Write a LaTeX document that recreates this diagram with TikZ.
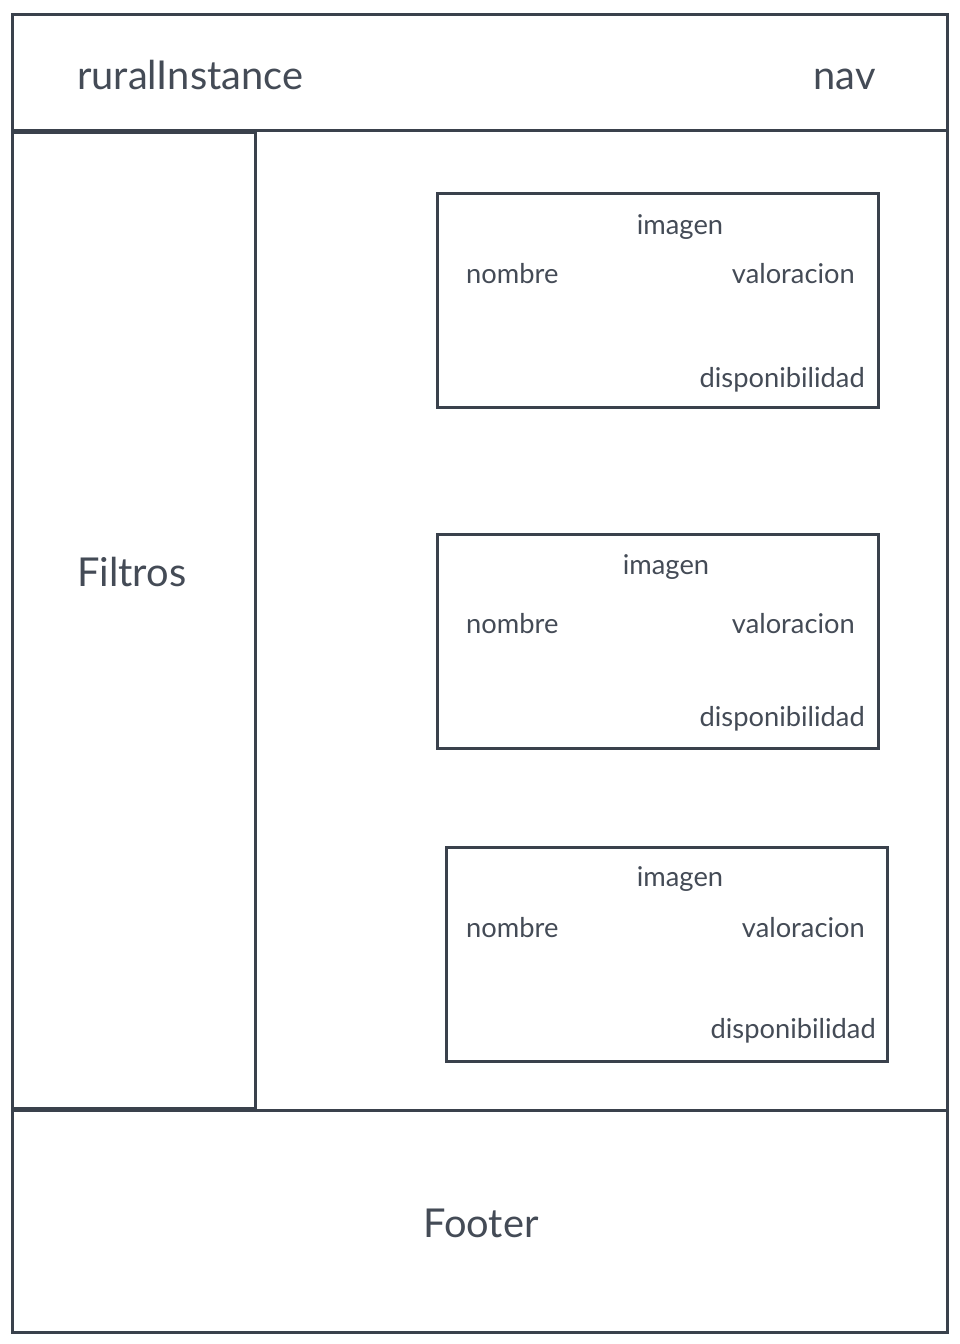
\documentclass[tikz,border=0pt]{standalone}
\usepackage{fontspec}
\setmainfont{Lato}
\definecolor{wireline}{HTML}{3A414C}
\definecolor{wiretext}{HTML}{444B56}
\tikzset{
  frame/.style={draw=wireline,line width=3pt},
  big label/.style={text=wiretext,inner sep=0pt,font=\fontsize{39.8}{42}\selectfont},
  small label/.style={text=wiretext,inner sep=0pt,font=\fontsize{27.3}{30}\selectfont}
}
\begin{document}
\begin{tikzpicture}[x=1pt,y=-1pt]
  \useasboundingbox (0,0) rectangle (960,1344);

  % page frame
  \draw[frame] (12,14) rectangle (947,130);
  \draw[frame] (12,130) rectangle (947,1110);
  \draw[frame] (12,132) rectangle (255,1108);
  \draw[frame] (12,1110) rectangle (947,1332);

  \node[big label,anchor=base west] (rural) at (77,89) {ruralInstance};
  \node[big label,anchor=base east] (nav)   at (876,89) {nav};
  \node[big label,anchor=base west] (filtros) at (77,586) {Filtros};
  \node[big label,anchor=base]      (footer)  at (481,1237) {Footer};

  % the three cards
  \draw[frame] (437,193) rectangle (878,407);
  \node[small label,anchor=base]      (imagen 1) at (680,234) {imagen};
  \node[small label,anchor=base west] (nombre 1) at (466,283) {nombre};
  \node[small label,anchor=base east] (valor 1)  at (855,283) {valoracion};
  \node[small label,anchor=base east] (dispo 1)  at (865,387) {disponibilidad};

  \draw[frame] (437,534) rectangle (878,748);
  \node[small label,anchor=base]      (imagen 2) at (666,574) {imagen};
  \node[small label,anchor=base west] (nombre 2) at (466,633) {nombre};
  \node[small label,anchor=base east] (valor 2)  at (855,633) {valoracion};
  \node[small label,anchor=base east] (dispo 2)  at (865,726) {disponibilidad};

  \draw[frame] (446,847) rectangle (887,1061);
  \node[small label,anchor=base]      (imagen 3) at (680,886) {imagen};
  \node[small label,anchor=base west] (nombre 3) at (466,937) {nombre};
  \node[small label,anchor=base east] (valor 3)  at (865,937) {valoracion};
  \node[small label,anchor=base east] (dispo 3)  at (876,1038) {disponibilidad};
\end{tikzpicture}
\end{document}
